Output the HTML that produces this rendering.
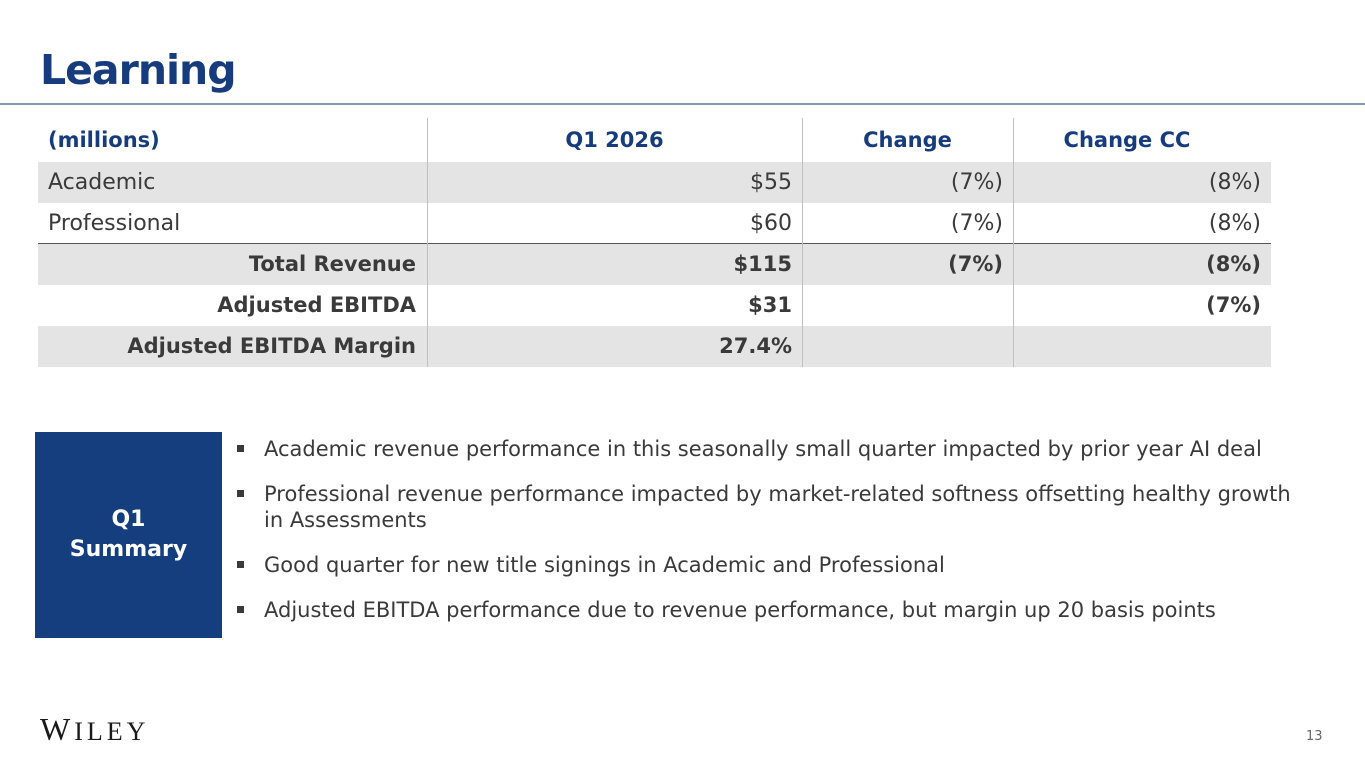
<!DOCTYPE html>
<html><head><meta charset="utf-8"><style>
*{margin:0;padding:0;box-sizing:border-box}
body{width:1365px;height:768px;background:#fff;position:relative;overflow:hidden;font-family:"DejaVu Sans","Liberation Sans",sans-serif;color:#3a3a3a}
.abs{position:absolute}
.title{left:40px;top:46px;font-size:41px;font-weight:bold;color:#163c7e;letter-spacing:-1px}
.rule{left:0;top:103px;width:1365px;height:2px;background:#8497b0}
.row{position:absolute;left:38px;width:1233px;height:41px}
.gray{background:#e4e4e4}
.cell{position:absolute;top:0;height:41px;line-height:41px;font-size:22px;white-space:nowrap}
.hd{color:#163c7e;font-weight:bold;font-size:21px}
.b{font-weight:bold}
.b .cell{font-size:21px}
.vl{position:absolute;top:118px;height:249px;width:1px;background:#bfbfbf}
.box{left:35px;top:432px;width:187px;height:206px;background:#153e7e;color:#fff;font-weight:bold;font-size:22px;text-align:center;display:flex;align-items:center;justify-content:center;line-height:30px}
.bl{left:237px;font-size:21px;line-height:26px;color:#3a3a3a}
.bl span.sq{position:absolute;left:0;top:9px;width:7px;height:7px;background:#3a3a3a}
.bl div{margin-left:27px;width:1080px;white-space:nowrap}
</style></head><body>
<div class="abs title">Learning</div>
<div class="abs rule"></div>

<div>
<div class="row" style="top:118px;height:44px">
 <div class="cell hd" style="left:10px;height:44px;line-height:44px">(millions)</div>
 <div class="cell hd" style="left:389px;width:375px;text-align:center;height:44px;line-height:44px">Q1 2026</div>
 <div class="cell hd" style="left:764px;width:211px;text-align:center;height:44px;line-height:44px">Change</div>
 <div class="cell hd" style="left:975px;width:258px;text-align:center;height:44px;line-height:44px;padding-right:30px">Change CC</div>
</div>
<div class="row gray" style="top:162px">
 <div class="cell" style="left:10px">Academic</div>
 <div class="cell" style="right:479px">$55</div>
 <div class="cell" style="right:268px">(7%)</div>
 <div class="cell" style="right:10px">(8%)</div>
</div>
<div class="row" style="top:203px;border-bottom:1px solid #555">
 <div class="cell" style="left:10px">Professional</div>
 <div class="cell" style="right:479px">$60</div>
 <div class="cell" style="right:268px">(7%)</div>
 <div class="cell" style="right:10px">(8%)</div>
</div>
<div class="row gray b" style="top:244px">
 <div class="cell" style="right:855px">Total Revenue</div>
 <div class="cell" style="right:479px">$115</div>
 <div class="cell" style="right:268px">(7%)</div>
 <div class="cell" style="right:10px">(8%)</div>
</div>
<div class="row b" style="top:285px">
 <div class="cell" style="right:855px">Adjusted EBITDA</div>
 <div class="cell" style="right:479px">$31</div>
 <div class="cell" style="right:10px">(7%)</div>
</div>
<div class="row gray b" style="top:326px">
 <div class="cell" style="right:855px">Adjusted EBITDA Margin</div>
 <div class="cell" style="right:479px">27.4%</div>
</div>
<div class="vl" style="left:427px"></div>
<div class="vl" style="left:802px"></div>
<div class="vl" style="left:1013px"></div>
</div>

<div class="abs box">Q1<br>Summary</div>
<div class="abs bl" style="top:436px"><span class="sq"></span><div>Academic revenue performance in this seasonally small quarter impacted by prior year AI deal</div></div>
<div class="abs bl" style="top:481px"><span class="sq"></span><div>Professional revenue performance impacted by market-related softness offsetting healthy growth<br>in Assessments</div></div>
<div class="abs bl" style="top:552px"><span class="sq"></span><div>Good quarter for new title signings in Academic and Professional</div></div>
<div class="abs bl" style="top:597px"><span class="sq"></span><div>Adjusted EBITDA performance due to revenue performance, but margin up 20 basis points</div></div>

<div class="abs" style="left:40px;top:711px;font-family:'Liberation Serif',serif;font-size:32px;color:#1a1a1a;letter-spacing:4px">W<span style="font-size:26px">ILEY</span></div>
<div class="abs" style="left:1306px;top:729px;font-size:13px;color:#666">13</div>
</body></html>
